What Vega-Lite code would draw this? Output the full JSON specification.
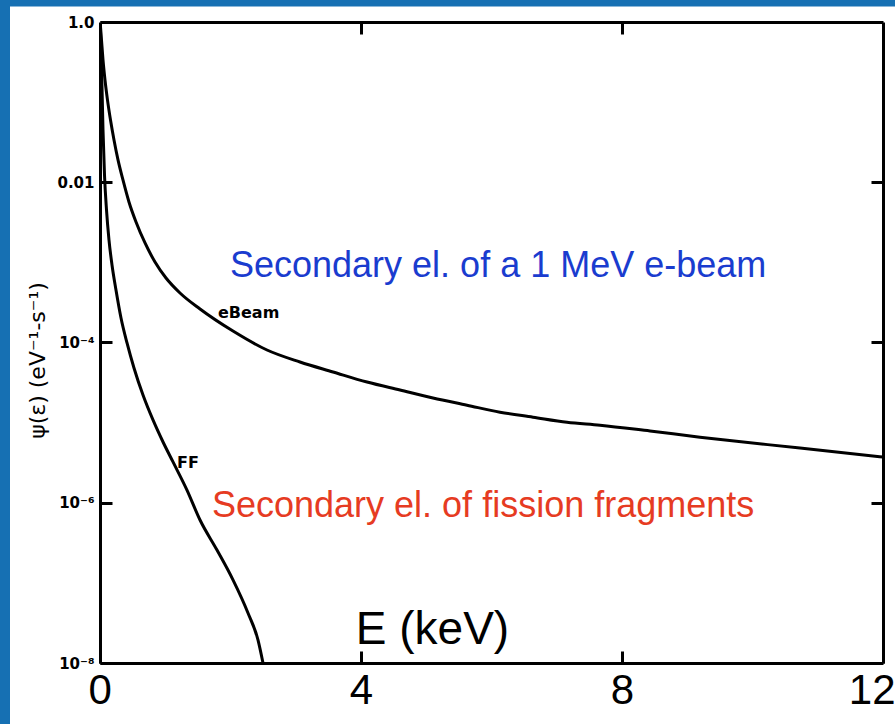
{
  "$schema": "https://vega.github.io/schema/vega-lite/v6.json",
  "width": 783,
  "height": 641,
  "autosize": {"type": "none"},
  "padding": {"left": 100, "top": 22, "right": 12, "bottom": 61},
  "background": "#1670b3",
  "config": {
    "view": {"fill": "white", "stroke": "white", "strokeWidth": 180},
    "axis": {"grid": false, "domainColor": "black", "domainWidth": 3, "tickColor": "black", "tickWidth": 3, "tickSize": -12, "labelColor": "black", "titleColor": "black", "labelOverlap": false}
  },
  "datasets": {
    "curves": [
      {"E": 0.0046, "psi": 0.944, "series": "eBeam"},
      {"E": 0.023, "psi": 0.596, "series": "eBeam"},
      {"E": 0.046, "psi": 0.336, "series": "eBeam"},
      {"E": 0.0766, "psi": 0.189, "series": "eBeam"},
      {"E": 0.115, "psi": 0.106, "series": "eBeam"},
      {"E": 0.161, "psi": 0.0598, "series": "eBeam"},
      {"E": 0.2146, "psi": 0.0337, "series": "eBeam"},
      {"E": 0.276, "psi": 0.019, "series": "eBeam"},
      {"E": 0.352, "psi": 0.01067, "series": "eBeam"},
      {"E": 0.444, "psi": 0.00567, "series": "eBeam"},
      {"E": 0.552, "psi": 0.00319, "series": "eBeam"},
      {"E": 0.69, "psi": 0.001746, "series": "eBeam"},
      {"E": 0.843, "psi": 0.001011, "series": "eBeam"},
      {"E": 1.0115, "psi": 0.000638, "series": "eBeam"},
      {"E": 1.226, "psi": 0.000415, "series": "eBeam"},
      {"E": 1.533, "psi": 0.000262, "series": "eBeam"},
      {"E": 2.038, "psi": 0.000139, "series": "eBeam"},
      {"E": 2.559, "psi": 8.06e-5, "series": "eBeam"},
      {"E": 3.065, "psi": 5.71e-5, "series": "eBeam"},
      {"E": 3.571, "psi": 4.29e-5, "series": "eBeam"},
      {"E": 4.092, "psi": 3.21e-5, "series": "eBeam"},
      {"E": 4.598, "psi": 2.55e-5, "series": "eBeam"},
      {"E": 5.103, "psi": 2.03e-5, "series": "eBeam"},
      {"E": 5.625, "psi": 1.65e-5, "series": "eBeam"},
      {"E": 6.13, "psi": 1.35e-5, "series": "eBeam"},
      {"E": 6.636, "psi": 1.17e-5, "series": "eBeam"},
      {"E": 7.157, "psi": 1.01e-5, "series": "eBeam"},
      {"E": 7.663, "psi": 9.3e-6, "series": "eBeam"},
      {"E": 8.429, "psi": 7.86e-6, "series": "eBeam"},
      {"E": 9.195, "psi": 6.59e-6, "series": "eBeam"},
      {"E": 10.728, "psi": 4.81e-6, "series": "eBeam"},
      {"E": 12.0, "psi": 3.71e-6, "series": "eBeam"},
      {"E": 0.0046, "psi": 0.944, "series": "FF"},
      {"E": 0.0153, "psi": 0.447, "series": "FF"},
      {"E": 0.0307, "psi": 0.1545, "series": "FF"},
      {"E": 0.046, "psi": 0.0449, "series": "FF"},
      {"E": 0.069, "psi": 0.0123, "series": "FF"},
      {"E": 0.0996, "psi": 0.00451, "series": "FF"},
      {"E": 0.138, "psi": 0.0019, "series": "FF"},
      {"E": 0.184, "psi": 0.000927, "series": "FF"},
      {"E": 0.245, "psi": 0.000452, "series": "FF"},
      {"E": 0.322, "psi": 0.000202, "series": "FF"},
      {"E": 0.414, "psi": 9.86e-5, "series": "FF"},
      {"E": 0.521, "psi": 4.81e-5, "series": "FF"},
      {"E": 0.659, "psi": 2.21e-5, "series": "FF"},
      {"E": 0.812, "psi": 1.08e-5, "series": "FF"},
      {"E": 0.966, "psi": 5.73e-6, "series": "FF"},
      {"E": 1.119, "psi": 3.23e-6, "series": "FF"},
      {"E": 1.333, "psi": 1.44e-6, "series": "FF"},
      {"E": 1.533, "psi": 6.09e-7, "series": "FF"},
      {"E": 1.793, "psi": 2.57e-7, "series": "FF"},
      {"E": 2.038, "psi": 1.09e-7, "series": "FF"},
      {"E": 2.268, "psi": 4.21e-8, "series": "FF"},
      {"E": 2.421, "psi": 1.94e-8, "series": "FF"},
      {"E": 2.498, "psi": 1.0e-8, "series": "FF"}
    ],
    "notes": [
      {"E": 1.992, "psi": 0.000657, "text": "Secondary el. of a 1 MeV e-beam", "kind": "blue"},
      {"E": 1.716, "psi": 6.64e-7, "text": "Secondary el. of fission fragments", "kind": "red"},
      {"E": 1.808, "psi": 0.000202, "text": "eBeam", "kind": "curve"},
      {"E": 1.18, "psi": 2.71e-6, "text": "FF", "kind": "curve"}
    ]
  },
  "layer": [
    {
      "data": {"name": "curves"},
      "mark": {"type": "line", "color": "black", "strokeWidth": 3, "clip": true, "interpolate": "monotone"},
      "encoding": {
        "x": {"field": "E", "type": "quantitative",
          "scale": {"domain": [0, 12], "nice": false, "zero": false},
          "axis": {"orient": "bottom", "values": [0, 4, 8, 12], "format": "d", "labelFont": "Liberation Sans", "labelFontSize": 42, "labelPadding": 19, "labelFlush": true, "labelFlushOffset": 12,
            "title": "E (keV)", "titleFont": "Liberation Sans", "titleFontSize": 46, "titleFontWeight": "normal", "titleX": 332, "titleY": -20, "titleAlign": "center", "titleBaseline": "alphabetic"}},
        "y": {"field": "psi", "type": "quantitative",
          "scale": {"type": "log", "domain": [1e-8, 1], "nice": false},
          "axis": {"orient": "left", "values": [1, 0.01, 0.0001, 0.000001, 1e-8],
            "labelExpr": "datum.value > 0.5 ? '1.0' : datum.value > 0.005 ? '0.01' : datum.value > 0.00005 ? '10⁻⁴' : datum.value > 5e-7 ? '10⁻⁶' : '10⁻⁸'",
            "labelFont": "DejaVu Sans", "labelFontSize": 15, "labelFontWeight": "bold", "labelPadding": 18,
            "title": "ψ(ε) (eV⁻¹-s⁻¹)", "titleFont": "DejaVu Sans", "titleFontSize": 22, "titleFontWeight": "normal", "titleX": -56, "titleY": 338, "titleAngle": -90, "titleAlign": "center", "titleBaseline": "alphabetic"}},
        "detail": {"field": "series", "type": "nominal"}
      }
    },
    {
      "data": {"name": "notes"},
      "transform": [{"filter": "datum.kind === 'blue'"}],
      "mark": {"type": "text", "align": "left", "baseline": "alphabetic", "font": "Liberation Sans", "fontSize": 36, "color": "#1a3ccf"},
      "encoding": {
        "x": {"field": "E", "type": "quantitative", "axis": {"orient": "top", "values": [4, 8], "labels": false, "title": null}},
        "y": {"field": "psi", "type": "quantitative", "axis": {"orient": "right", "values": [0.01, 0.0001, 0.000001], "labels": false, "title": null}},
        "text": {"field": "text"}
      }
    },
    {
      "data": {"name": "notes"},
      "transform": [{"filter": "datum.kind === 'red'"}],
      "mark": {"type": "text", "align": "left", "baseline": "alphabetic", "font": "Liberation Sans", "fontSize": 36, "color": "#e63b22"},
      "encoding": {
        "x": {"field": "E", "type": "quantitative", "axis": {"orient": "top", "offset": 16, "domain": false, "labels": false, "title": null, "values": [5.33], "tickColor": "#1670b3", "tickWidth": 1000, "tickSize": 10}},
        "y": {"field": "psi", "type": "quantitative", "axis": null},
        "text": {"field": "text"}
      }
    },
    {
      "data": {"name": "notes"},
      "transform": [{"filter": "datum.kind === 'curve'"}],
      "mark": {"type": "text", "align": "left", "baseline": "alphabetic", "font": "DejaVu Sans", "fontSize": 16, "fontWeight": "bold", "color": "black"},
      "encoding": {
        "x": {"field": "E", "type": "quantitative", "axis": null},
        "y": {"field": "psi", "type": "quantitative", "axis": null},
        "text": {"field": "text"}
      }
    }
  ],
  "resolve": {"axis": {"x": "independent", "y": "independent"}}
}
